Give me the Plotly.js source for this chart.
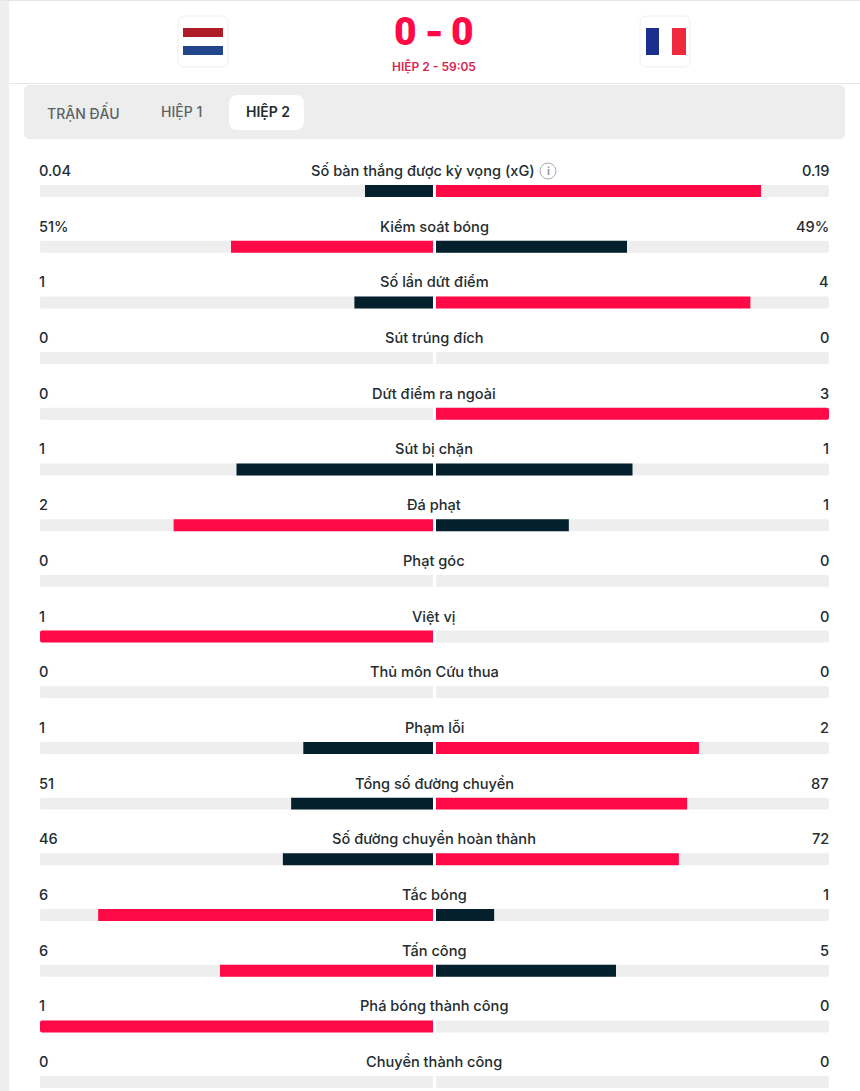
<!DOCTYPE html>
<html><head><meta charset="utf-8">
<script src="https://cdn.plot.ly/plotly-3.0.1.min.js"></script>
<style>html,body{margin:0;padding:0;background:#fff;overflow:hidden}#c{width:860px;height:1091px}</style>
</head><body><div id="c"></div>
<script>
const categories = ["Số bàn thắng được kỳ vọng (xG)","Kiểm soát bóng","Số lần dứt điểm","Sút trúng đích","Dứt điểm ra ngoài","Sút bị chặn","Đá phạt","Phạt góc","Việt vị","Thủ môn Cứu thua","Phạm lỗi","Tổng số đường chuyền","Số đường chuyền hoàn thành","Tắc bóng","Tấn công","Phá bóng thành công","Chuyền thành công"];
const homeLabels = ["0.04","51%","1","0","0","1","2","0","1","0","1","51","46","6","6","1","0"];
const awayLabels = ["0.19","49%","4","0","3","1","1","0","0","0","2","87","72","1","5","0","0"];
const homeShare = [0.173,0.514,0.2,0,0,0.5,0.66,0,1,0,0.33,0.361,0.382,0.852,0.542,1,0];
const awayShare = [0.827,0.486,0.8,0,1,0.5,0.338,0,0,0,0.669,0.639,0.618,0.148,0.458,0,0];
const trackShare = [1,1,1,1,1,1,1,1,1,1,1,1,1,1,1,1,1];
const tabs = ["TRẬN ĐẤU","HIỆP 1","HIỆP 2"];
const periodText = "HIỆP 2 - 59:05";
const homeScore = "0", awayScore = "0";

const W=860,H=1091,RED="#ff0a47",DARK="#03202c",TRACK="#eeeeee",INK="#242c30";
const FONT="Inter, 'Noto Sans', sans-serif";
const px=x=>x/W, py=y=>1-y/H;
const color=(a,b)=>a.map((v,i)=>v>b[i]?RED:DARK);
const bar=(x,xa,c)=>({type:"bar",orientation:"h",y:categories,x:x,xaxis:xa,yaxis:"y",width:0.215,
  marker:{color:c,line:{width:0}},hoverinfo:"skip",showlegend:false});
const data=[bar(trackShare,"x",TRACK),bar(trackShare,"x2",TRACK),
  bar(homeShare,"x",color(homeShare,awayShare)),bar(awayShare,"x2",color(awayShare,homeShare))];

const rect=(x0,y0,x1,y1,fill,line)=>({type:"rect",xref:"paper",yref:"paper",x0:px(x0),x1:px(x1),y0:py(y1),y1:py(y0),
  fillcolor:fill,line:line?{color:line,width:1}:{width:0},layer:"below"});
const rrect=(x0,y0,x1,y1,r,fill,line)=>({type:"path",xref:"paper",yref:"paper",
  path:`M${px(x0+r)},${py(y0)}L${px(x1-r)},${py(y0)}Q${px(x1)},${py(y0)} ${px(x1)},${py(y0+r)}L${px(x1)},${py(y1-r)}Q${px(x1)},${py(y1)} ${px(x1-r)},${py(y1)}L${px(x0+r)},${py(y1)}Q${px(x0)},${py(y1)} ${px(x0)},${py(y1-r)}L${px(x0)},${py(y0+r)}Q${px(x0)},${py(y0)} ${px(x0+r)},${py(y0)}Z`,
  fillcolor:fill,line:line?{color:line,width:1}:{width:0},layer:"below"});
const shapes=[
  rect(0,0,9,H,"#eeeeee"),rect(0,0,W,1,"#e6e6e6"),rect(9,83,W,84,"#e8e8e8"),
  rrect(24,85,845,139,6,"#ededed"),rrect(229,95,304,130,9,"#ffffff"),
  rrect(178,16,228,67,7,"#ffffff","#efefef"),rrect(640,16,690,67,7,"#ffffff","#efefef"),
  rect(183,28,223,37,"#ae1c28"),rect(183,37,223,46,"#ffffff"),rect(183,46,223,55,"#21468b"),
  rect(646,28,659,55,"#1b2f8f"),rect(659,28,672,55,"#ffffff"),rect(672,28,686,55,"#ee2a3c"),
  {type:"circle",xref:"paper",yref:"paper",x0:px(540),x1:px(556),y0:py(179),y1:py(163),line:{color:"#a8adb0",width:1},fillcolor:"rgba(0,0,0,0)"}
];
const txt=(x,y,t,size,col,anchor,weight,fam)=>({xref:"paper",yref:"paper",x:px(x),y:py(y),text:t,showarrow:false,xanchor:anchor||"center",yanchor:"middle",
  font:{family:fam||FONT,size:size,color:col,weight:weight||500},borderpad:0});
const annotations=[
  txt(405,32,homeScore,39,RED,"center",900,"Roboto"),txt(434,31,"-",39,RED,"center",800),txt(462,32,awayScore,39,RED,"center",900,"Roboto"),
  txt(434,67,periodText,12,"#d6264f","center",600),
  txt(83.5,112,tabs[0],14,"#5c6367","center",500),txt(181.5,112,tabs[1],14,"#5c6367","center",500),txt(267.5,112,tabs[2],14,INK,"center",600),
  txt(548,171,"i",11,"#8a9094","center",600)
];
categories.forEach((c,i)=>{
  const base={xref:"paper",yref:"y",y:c,yshift:20,showarrow:false,yanchor:"middle",borderpad:0,font:{family:FONT,size:14.6,color:INK,weight:500}};
  annotations.push({...base,x:px(i===0?422.5:434),xanchor:"center",text:c});
  annotations.push({...base,x:px(38),xanchor:"left",text:homeLabels[i]});
  annotations.push({...base,x:px(830),xanchor:"right",text:awayLabels[i]});
});
const hidden={showgrid:false,zeroline:false,showticklabels:false,ticks:"",showline:false,fixedrange:true};
const layout={width:W,height:H,margin:{l:0,r:0,t:0,b:0},paper_bgcolor:"#fff",plot_bgcolor:"rgba(0,0,0,0)",
  barmode:"overlay",barcornerradius:2,showlegend:false,
  xaxis:{...hidden,domain:[px(40),px(433)],range:[1,0],anchor:"y"},
  xaxis2:{...hidden,domain:[px(436),px(829)],range:[0,1],anchor:"y"},
  yaxis:{...hidden,type:"category",categoryorder:"array",categoryarray:categories,range:[16.16,-3.43],domain:[0,1],anchor:"x"},
  shapes:shapes,annotations:annotations};
Plotly.newPlot("c",data,layout,{displayModeBar:false,staticPlot:true});
</script></body></html>
